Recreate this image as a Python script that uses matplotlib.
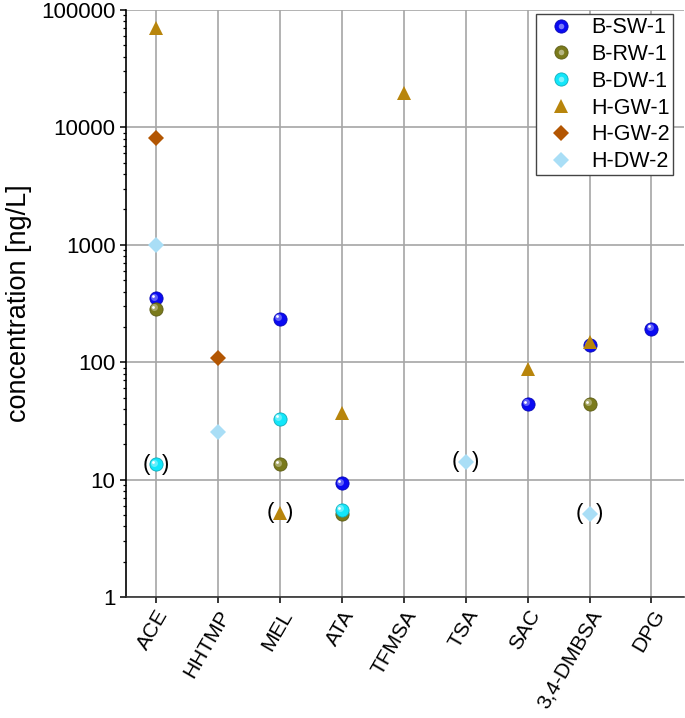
import numpy as np
import matplotlib.pyplot as plt
from matplotlib.transforms import offset_copy
from matplotlib.colors import to_rgb
from matplotlib.lines import Line2D
from matplotlib.legend_handler import HandlerTuple

plt.rcParams['font.family'] = ['Liberation Sans', 'DejaVu Sans']

categories = ['ACE', 'HHTMP', 'MEL', 'ATA', 'TFMSA', 'TSA', 'SAC', '3,4-DMBSA', 'DPG']

# concentrations in ng/L, None = not detected
b_sw_1 = [350, None, 235, 9.3, None, None, 44, 139, 192]
b_rw_1 = [283, None, 13.5, 5.1, None, None, None, 44, None]
b_dw_1 = [13.5, None, 33, 5.5, None, None, None, None, None]
h_gw_1 = [71000, None, 5.2, 37, 19500, None, 88, 150, None]
h_gw_2 = [8200, 108, None, None, None, None, None, None, None]
h_dw_2 = [1000, 25.5, None, None, None, 14.2, None, 5.1, None]

# values shown in brackets
bracketed = [('B-DW-1', 'ACE'), ('H-GW-1', 'MEL'), ('H-DW-2', 'TSA'), ('H-DW-2', '3,4-DMBSA')]

series = [
    ('B-SW-1', b_sw_1, 'sphere', '#0a0af2'),
    ('B-RW-1', b_rw_1, 'sphere', '#7a7a1c'),
    ('B-DW-1', b_dw_1, 'sphere', '#12e6fa'),
    ('H-GW-1', h_gw_1, '^', '#b8850c'),
    ('H-GW-2', h_gw_2, 'D', '#b35602'),
    ('H-DW-2', h_dw_2, 'D', '#a9def6'),
]


def lighter(c, f):
    r = np.array(to_rgb(c))
    return tuple(r + (1 - r) * f)


def darker(c, f):
    return tuple(np.array(to_rgb(c)) * (1 - f))


fig = plt.figure(figsize=(6.85, 7.18), dpi=100)
ax = fig.add_axes([0.184, 0.1685, 0.815, 0.8175])

x = np.arange(len(categories))
handles = []
for name, vals, kind, color in series:
    xs = [xi for xi, v in zip(x, vals) if v is not None]
    ys = [v for v in vals if v is not None]
    if kind == 'sphere':
        ax.plot(xs, ys, 'o', ms=9.5, color=color, mec=darker(color, 0.25), mew=0.6, zorder=3)
        hl = offset_copy(ax.transData, fig=fig, x=-1.3, y=1.3, units='points')
        ax.plot(xs, ys, 'o', ms=5, color=lighter(color, 0.35), mew=0, zorder=3, transform=hl)
        hl2 = offset_copy(ax.transData, fig=fig, x=-1.8, y=1.8, units='points')
        ax.plot(xs, ys, 'o', ms=2, color='white', mew=0, zorder=3, transform=hl2)
        h = (Line2D([], [], ls='', marker='o', ms=9.5, color=color, mec=darker(color, 0.25), mew=0.6),
             Line2D([], [], ls='', marker='o', ms=4, color=lighter(color, 0.45), mew=0))
    elif kind == '^':
        ax.plot(xs, ys, '^', ms=10.5, color=color, mew=0, zorder=3)
        h = Line2D([], [], ls='', marker='^', ms=10.5, color=color, mew=0)
    else:
        ax.plot(xs, ys, 'D', ms=7.8, color=color, mew=0, zorder=3)
        h = Line2D([], [], ls='', marker='D', ms=7.8, color=color, mew=0)
    handles.append(h)

values = {name: vals for name, vals, kind, color in series}
for name, cat in bracketed:
    i = categories.index(cat)
    v = values[name][i]
    ax.annotate('(', (i, v), xytext=(-7, 0), textcoords='offset points',
                ha='center', va='center', fontsize=16, zorder=4)
    ax.annotate(')', (i, v), xytext=(7, 0), textcoords='offset points',
                ha='center', va='center', fontsize=16, zorder=4)

ax.set_yscale('log')
ax.set_ylim(1, 100000)
ax.set_xlim(-0.48, 8.53)
ax.set_yticks([1, 10, 100, 1000, 10000, 100000])
ax.set_yticklabels(['1', '10', '100', '1000', '10000', '100000'])
ax.set_xticks(x)
ax.set_xticklabels(categories, rotation=60, ha='right', rotation_mode='anchor')

ax.grid(True, which='major', color='#a6a6a6', linewidth=1.2)
ax.set_axisbelow(True)
for s in ['top', 'right']:
    ax.spines[s].set_visible(False)
ax.spines['left'].set_linewidth(1.2)
ax.spines['bottom'].set_linewidth(1.2)
ax.spines['bottom'].set_color('#333333')
ax.tick_params(axis='both', which='major', length=4, width=1.1, direction='out')
ax.tick_params(axis='y', labelsize=16)
ax.tick_params(axis='x', labelsize=15, pad=3)
ax.tick_params(axis='y', which='minor', length=2.5, width=0.9)

ax.set_ylabel('concentration [ng/L]', fontsize=19.5, labelpad=7)

ax.legend(handles, [s[0] for s in series], handler_map={tuple: HandlerTuple(ndivide=1)},
          loc='upper right', bbox_to_anchor=(0.98, 0.993), borderaxespad=0,
          fontsize=15.5, fancybox=False, framealpha=1, edgecolor='#444444',
          labelspacing=0.27, borderpad=0.14, handlelength=2.1, handletextpad=0.35)

fig.savefig('out.png', dpi=100)
